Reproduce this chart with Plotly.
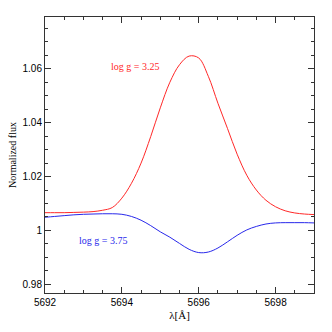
import plotly.graph_objects as go

wave = [5692.0, 5692.25, 5692.5, 5692.75, 5693.0, 5693.25, 5693.5, 5693.75,
        5694.0, 5694.25, 5694.5, 5694.75, 5695.0, 5695.25, 5695.5, 5695.75,
        5696.0, 5696.25, 5696.5, 5696.75, 5697.0, 5697.25, 5697.5, 5697.75,
        5698.0, 5698.25, 5698.5, 5698.75, 5699.0]

# log g = 3.25 (red, emission-like bump)
flux_325 = [1.0066, 1.0066, 1.0066, 1.0067, 1.0068, 1.0070, 1.0075, 1.0085,
            1.0120, 1.0175, 1.0250, 1.0348, 1.0455, 1.0550, 1.0615, 1.0647,
            1.0640, 1.0572, 1.0472, 1.0378, 1.0283, 1.0205, 1.0150, 1.0112,
            1.0088, 1.0073, 1.0065, 1.0061, 1.0059]

# log g = 3.75 (blue, shallow absorption)
flux_375 = [1.0049, 1.0052, 1.0055, 1.0058, 1.0060, 1.0061, 1.0062, 1.0062,
            1.0060, 1.0052, 1.0038, 1.0018, 0.9995, 0.9975, 0.9952, 0.9930,
            0.9918, 0.9920, 0.9935, 0.9958, 0.9982, 1.0002, 1.0015, 1.0024,
            1.0028, 1.0029, 1.0029, 1.0029, 1.0028]

ytick_vals = [0.98, 1.0, 1.02, 1.04, 1.06]
ytick_text = ['0.98', '1', '1.02', '1.04', '1.06']
xtick_vals = [5692, 5694, 5696, 5698]

RED = 'rgb(255,40,40)'
BLUE = 'rgb(40,40,235)'

fig = go.Figure()
fig.add_trace(go.Scatter(x=wave, y=flux_325, mode='lines',
                         line=dict(color=RED, width=1, shape='spline')))
fig.add_trace(go.Scatter(x=wave, y=flux_375, mode='lines',
                         line=dict(color=BLUE, width=1, shape='spline')))

axis_common = dict(
    showgrid=False, zeroline=False, showline=True, linecolor='#333', linewidth=1,
    mirror='allticks', ticks='inside', ticklen=6, tickcolor='#333', tickwidth=1,
    tickfont=dict(family='Liberation Sans', size=10, color='black'),
)

fig.update_layout(
    width=332, height=332,
    margin=dict(l=36, r=18, t=17, b=37),
    paper_bgcolor='white', plot_bgcolor='white',
    showlegend=False,
    xaxis=dict(axis_common, range=[5692, 5699], tickvals=xtick_vals,
               minor=dict(dtick=0.5, tick0=5692, ticks='inside', ticklen=3,
                          tickcolor='#333', showgrid=False),
               title=dict(text='λ[Å]', standoff=4,
                          font=dict(family='Liberation Serif', size=11, color='black'))),
    yaxis=dict(axis_common, range=[0.9768, 1.0792], tickvals=ytick_vals,
               ticktext=ytick_text,
               minor=dict(dtick=0.005, tick0=0.98, ticks='inside', ticklen=3,
                          tickcolor='#333', showgrid=False),
               title=dict(text='Normalized flux', standoff=4,
                          font=dict(family='Liberation Serif', size=10, color='black'))),
    annotations=[
        dict(x=5694.33, y=1.0610, xref='x', yref='y', text='log g = 3.25',
             showarrow=False, font=dict(family='Liberation Serif', size=10,
                                        color=RED)),
        dict(x=5693.5, y=0.9961, xref='x', yref='y', text='log g = 3.75',
             showarrow=False, font=dict(family='Liberation Serif', size=10,
                                        color=BLUE)),
    ],
)

# drop the default page margin so the figure sits at the window corner
fig.write_html("out.html", config={'displayModeBar': False},
               post_script="document.body.style.margin='0';")
